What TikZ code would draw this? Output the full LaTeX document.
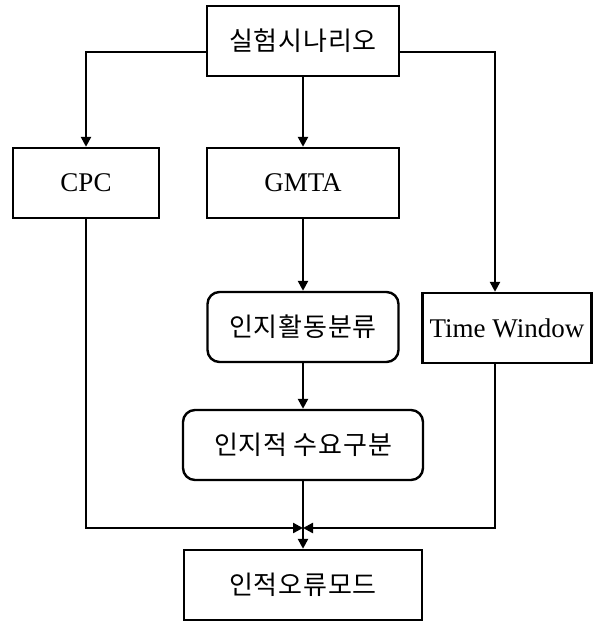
\documentclass[tikz,border=0pt]{standalone}
\usepackage{fontspec}
\setmainfont{Liberation Serif}
\newfontfamily\kr[LetterSpace=3]{Noto Sans CJK KR}
\usetikzlibrary{arrows.meta}

\begin{document}
\begin{tikzpicture}[x=0.5pt,y=-0.5pt,>={Triangle[length=5pt,width=5pt]},line width=1.2pt,
  box/.style={draw,minimum height=35pt,inner sep=0pt,font=\fontsize{13.5}{16}\selectfont},
  kbox/.style={box,font=\kr\fontsize{13}{15}\selectfont},
  rbox/.style={kbox,rounded corners=6pt}]
  \useasboundingbox (0,0) rectangle (593,622);
  % boxes
  \node[kbox,minimum width=96pt] (scen) at (303,41) {실험시나리오};
  \node[box,minimum width=73pt] (cpc) at (86,183) {CPC};
  \node[box,minimum width=96pt] (gmta) at (303,183) {GMTA};
  \node[box,minimum width=84.5pt] (tw) at (507,328) {Time Window};
  \node[rbox,minimum width=95.5pt] (act) at (303,327) {인지활동분류};
  \node[rbox,minimum width=120pt] (dem) at (303,445) {인지적 수요구분};
  \node[kbox,minimum width=119pt] (mode) at (303,585) {인적오류모드};
  \coordinate (merge) at (303,528);
  % arrows
  \draw[->] ([yshift=-5.5pt]scen.west) -| (cpc);
  \draw[->] (scen) -- (gmta);
  \draw[->] ([yshift=-5.5pt]scen.east) -| ([xshift=-6pt]tw.north);
  \draw[->] (gmta) -- (act);
  \draw[->] (act) -- (dem);
  \draw[->] (dem) -- (mode);
  \draw[->] (cpc) |- (merge);
  \draw[->] ([xshift=-6pt]tw.south) |- (merge);
\end{tikzpicture}
\end{document}
